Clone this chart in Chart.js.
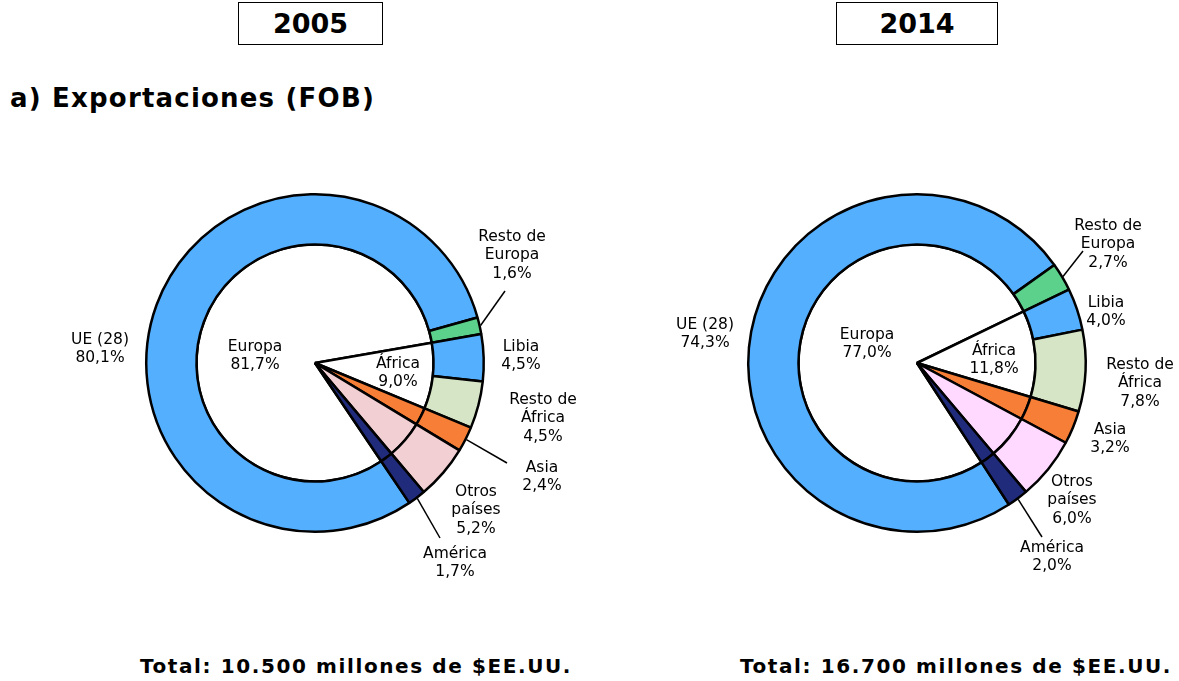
<!DOCTYPE html>
<html lang="es">
<head>
<meta charset="utf-8">
<title>Exportaciones (FOB) 2005 - 2014</title>
<script src="https://cdn.jsdelivr.net/npm/chart.js@4"></script>
<style>
  html, body { margin: 0; padding: 0; background: #fff; }
  body { width: 1179px; height: 681px; position: relative; overflow: hidden;
         font-family: "DejaVu Sans", Verdana, sans-serif; color: #000; }
  .year { position: absolute; top: 2px; height: 41px; border: 1.5px solid #000;
          font-weight: bold; font-size: 27px; line-height: 41px; text-align: center; }
  .title { position: absolute; left: 10px; top: 83px; font-weight: bold; font-size: 26px;
           letter-spacing: 1.2px; line-height: 30px; white-space: nowrap; }
  .total { position: absolute; top: 654px; width: 600px; text-align: center; white-space: nowrap;
           font-weight: bold; font-size: 20px; letter-spacing: 1.6px; line-height: 24px; }
  .pie { position: absolute; top: 160px; height: 460px; }
</style>
</head>
<body>
<div class="year" style="left:238px;width:143px;">2005</div>
<div class="year" style="left:836px;width:160px;">2014</div>
<div class="title">a) Exportaciones (FOB)</div>

<div class="pie" style="left:40px;width:560px;"><canvas id="c2005"></canvas></div>
<div class="pie" style="left:640px;width:539px;"><canvas id="c2014"></canvas></div>

<div class="total" style="left:56px;">Total: 10.500 millones de $EE.UU.</div>
<div class="total" style="left:656px;">Total: 16.700 millones de $EE.UU.</div>

<script>
// outer ring: destinations
const ringLabels = ["UE (28)", "Resto de Europa", "Libia", "Resto de África", "Asia", "Otros países", "América"];
const ring2005 = [80.1, 1.6, 4.5, 4.5, 2.4, 5.2, 1.7];
const ring2014 = [74.3, 2.7, 4.0, 7.8, 3.2, 6.0, 2.0];

// inner pie: regions
const pieLabels = ["Europa", "África", "Asia", "Otros países", "América"];
const pie2005 = [81.7, 9.0, 2.4, 5.2, 1.7];
const pie2014 = [77.0, 11.8, 3.2, 6.0, 2.0];

const ringColors = ["#55AFFF", "#5BD18B", "#55AFFF", "#D5E5C6", "#F67E36", null, "#202B7C"];
const otrosColor = { 2005: "#F2CFD3", 2014: "#FFD9FF" };

// where each label text block sits, relative to the pie centre (px)
const ringLabelPos = {
  2005: [[-215, -14], [197, -108], [206, -7], [228, 55], [227, 114], [161, 147], [140, 200]],
  2014: [[-212, -29], [191, -119], [189, -51], [223, 20], [193, 76], [155, 137], [135, 194]]
};
const pieLabelPos = {
  2005: [[-60, -7], [83, 10]],
  2014: [[-50, -19], [77, -3]]
};
// leader line ends (index of ring slice -> end offset)
const leaders = {
  2005: { 1: [190, -72], 4: [192, 100], 6: [125, 175] },
  2014: { 1: [166, -112], 6: [125, 174] }
};
const rotations = { 2005: 146, 2014: 147 };
// canvas padding so the pie centre lands where it should
const paddings = {
  2005: { left: 105, right: 115, top: 33, bottom: 87 },
  2014: { left: 107, right: 92, top: 33, bottom: 87 }
};

const pct = v => v.toFixed(1).replace(".", ",") + "%";
const split = name => name.startsWith("Resto de ") ? ["Resto de", name.slice(9)]
                    : name === "Otros países" ? ["Otros", "países"] : [name];

function drawBlock(ctx, lines, x, y) {
  const lh = 18.5;
  const top = y - (lines.length - 1) * lh / 2;
  lines.forEach((t, i) => ctx.fillText(t, x, top + i * lh));
}

function makeChart(id, year, ring, pie) {
  const colors = ringColors.slice();
  colors[5] = otrosColor[year];
  const pieColors = ["#FFFFFF", "#FFFFFF", colors[4], colors[5], colors[6]];

  const labelPlugin = {
    id: "labels",
    afterDraw(chart) {
      const ctx = chart.ctx;
      const ringMeta = chart.getDatasetMeta(0);
      const arc0 = ringMeta.data[0];
      const cx = arc0.x, cy = arc0.y;
      ctx.save();
      ctx.font = '15.5px "DejaVu Sans", Verdana, sans-serif';
      ctx.fillStyle = "#000";
      ctx.textAlign = "center";
      ctx.textBaseline = "middle";
      ringLabels.forEach((name, i) => {
        const [dx, dy] = ringLabelPos[year][i];
        drawBlock(ctx, split(name).concat(pct(ring[i])), cx + dx, cy + dy);
      });
      pieLabels.slice(0, 2).forEach((name, i) => {
        const [dx, dy] = pieLabelPos[year][i];
        drawBlock(ctx, [name, pct(pie[i])], cx + dx, cy + dy);
      });
      ctx.strokeStyle = "#000";
      ctx.lineWidth = 1.5;
      Object.entries(leaders[year]).forEach(([i, end]) => {
        const a = ringMeta.data[+i];
        const mid = (a.startAngle + a.endAngle) / 2;
        const r = a.outerRadius + 1;
        ctx.beginPath();
        ctx.moveTo(cx + Math.cos(mid) * r, cy + Math.sin(mid) * r);
        ctx.lineTo(cx + end[0], cy + end[1]);
        ctx.stroke();
      });
      ctx.restore();
    }
  };

  return new Chart(document.getElementById(id), {
    type: "doughnut",
    data: {
      datasets: [
        { label: "Destino", data: ring, backgroundColor: colors, weight: 50,
          borderColor: "#000", borderWidth: 2.5, labels: ringLabels },
        { label: "Región", data: pie, backgroundColor: pieColors, weight: 118,
          borderColor: "#000", borderWidth: 2.5, labels: pieLabels }
      ]
    },
    options: {
      responsive: true,
      maintainAspectRatio: false,
      animation: false,
      cutout: 0,
      rotation: rotations[year],
      layout: { padding: paddings[year] },
      events: [],
      plugins: { legend: { display: false }, tooltip: { enabled: false } }
    },
    plugins: [labelPlugin]
  });
}

makeChart("c2005", 2005, ring2005, pie2005);
makeChart("c2014", 2014, ring2014, pie2014);
</script>
</body>
</html>
